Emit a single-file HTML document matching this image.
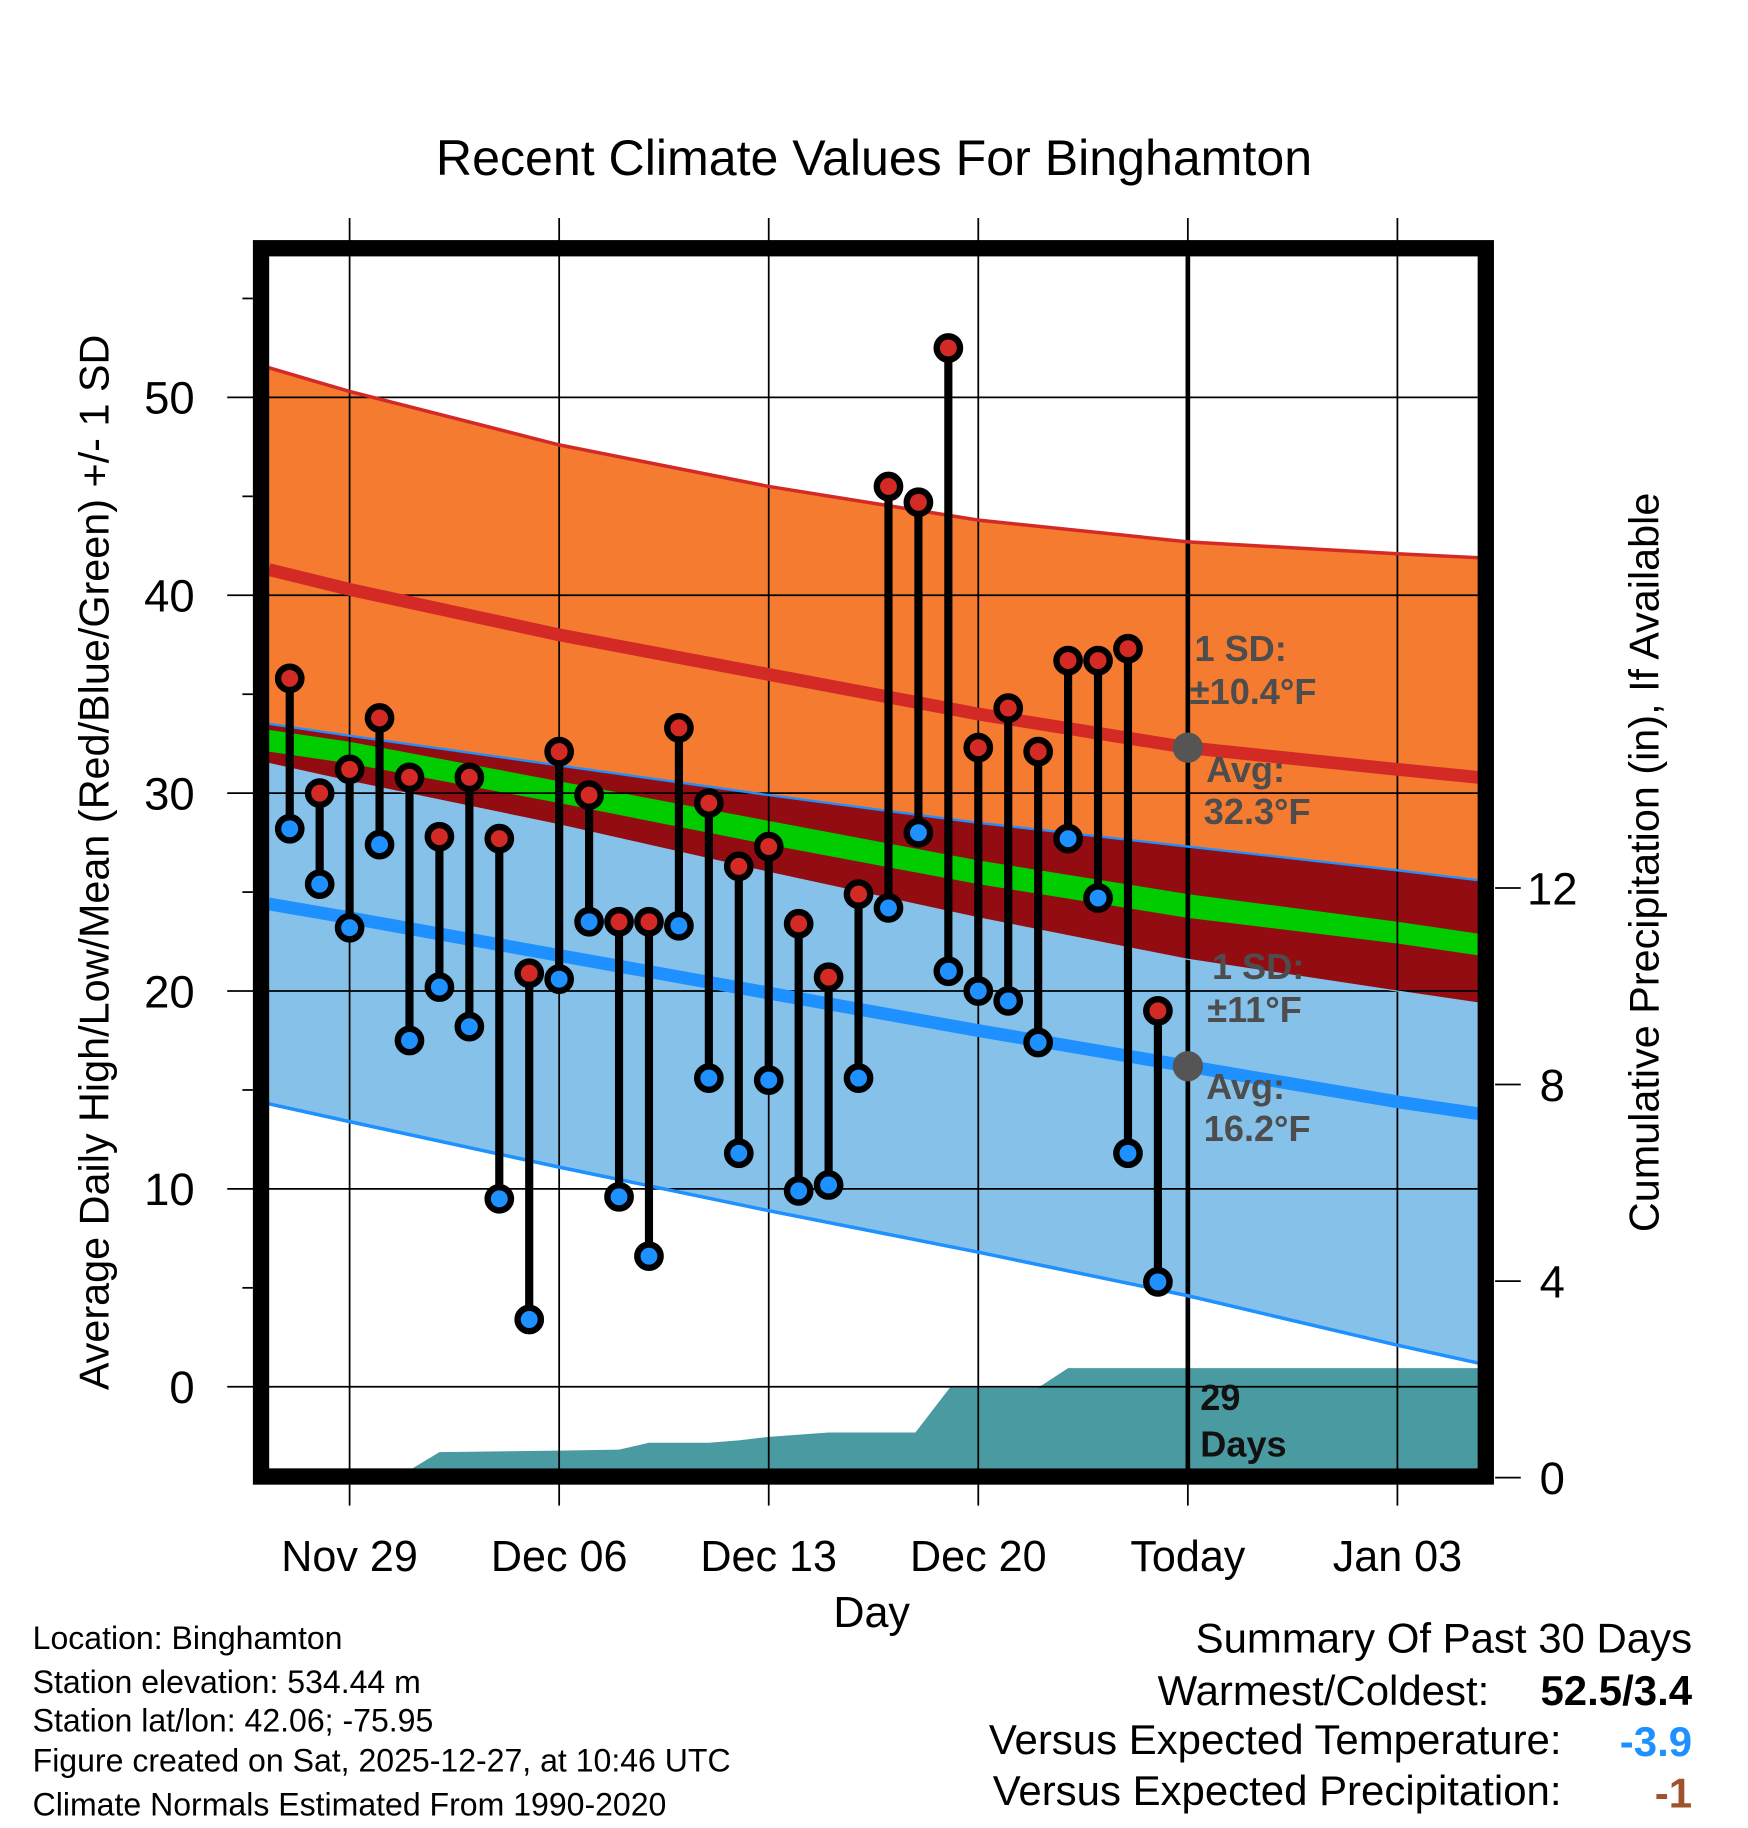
<!DOCTYPE html>
<html><head><meta charset="utf-8"><style>
html,body{margin:0;padding:0;background:#fff;}
svg{display:block;font-family:"Liberation Sans",sans-serif;}
</style></head><body>
<svg id="chart" width="1748" height="1828" viewBox="0 0 1500 1568.6" xmlns="http://www.w3.org/2000/svg">
<g id="fills"></g><g id="grid"></g><g id="lines"></g><g id="marks"></g><g id="frame"></g><g id="texts"></g>
</svg>
<script>
const dayLabels = ["Nov 29","Dec 06","Dec 13","Dec 20","Today","Jan 03"];
const dayTicks = [0,7,14,21,28,35];
const yTicks = [0,10,20,30,40,50];
const pTicks = [0,4,8,12];
const obsDays = [-2,-1,0,1,2,3,4,5,6,7,8,9,10,11,12,13,14,15,16,17,18,19,20,21,22,23,24,25,26,27];
const highs = [35.8,30.0,31.2,33.8,30.8,27.8,30.8,27.7,20.9,32.1,29.9,23.5,23.5,33.3,29.5,26.3,27.3,23.4,20.7,24.9,45.5,44.7,52.5,32.3,34.3,32.1,36.7,36.7,37.3,19.0];
const lows = [28.2,25.4,23.2,27.4,17.5,20.2,18.2,9.5,3.4,20.6,23.5,9.6,6.6,23.3,15.6,11.8,15.5,9.9,10.2,15.6,24.2,28.0,21.0,20.0,19.5,17.4,27.7,24.7,11.8,5.3];
const normDays = [-2.7,0,7,14,21,28,35,37.7];
const highUpper = [51.5,50.3,47.6,45.5,43.8,42.7,42.1,41.9];
const highAvg = [41.3,40.3,38.0,36.0,34.0,32.3,31.2,30.8];
const highLower = [33.5,32.9,31.4,29.9,28.5,27.3,26.1,25.6];
const meanTop = [33.2,32.6,30.6,28.6,26.6,24.9,23.5,22.9];
const meanBot = [32.1,31.5,29.5,27.4,25.4,23.7,22.4,21.8];
const lowUpper = [31.5,30.6,28.4,26.0,23.7,21.6,20.0,19.4];
const lowAvg = [24.4,23.7,21.8,19.9,18.0,16.2,14.4,13.8];
const lowLower = [14.3,13.4,11.1,8.9,6.8,4.6,2.1,1.2];
const precipDays = [-2.7,2.1,3,7,9,10,12,13,14,16,18.9,20.05,23,24,37.7];
const precipCum = [0,0,0.52,0.55,0.57,0.71,0.71,0.76,0.83,0.92,0.92,1.83,1.83,2.23,2.23];

const NS="http://www.w3.org/2000/svg";
const X0=231,X1=1268,Y0=220,Y1=1260;
const xs=d=>300+d*25.69;
const ys=v=>1190-v*16.98;
const ps=p=>1268-p*42.17;
function el(tag,attrs,parent,text){const e=document.createElementNS(NS,tag);for(const k in attrs)e.setAttribute(k,attrs[k]);if(text!==undefined)e.textContent=text;document.getElementById(parent).appendChild(e);return e;}
function pts(a){return normDays.map((d,i)=>xs(d)+','+ys(a[i])).join(' ');}
function band(top,bot,fill,name){
  const p=normDays.map((d,i)=>xs(d)+','+ys(top[i])).concat(normDays.map((d,i)=>xs(d)+','+ys(bot[i])).reverse()).join(' ');
  const e=el('polygon',{points:p,fill:fill},'fills');
  
  
}
band(highUpper,highLower,'#f47b2f','high-sd-band');
band(highLower,lowUpper,'#930c12','overlap-band');
band(lowUpper,lowLower,'#85c1e8','low-sd-band');
band(meanTop,meanBot,'#00cc00','mean-band');
{const p=precipDays.map((d,i)=>xs(d)+','+Math.min(ps(precipCum[i]),Y1)).concat([xs(37.7)+','+Y1,xs(-2.7)+','+Y1]).join(' ');
const e=el('polygon',{points:p,fill:'#4a9aa2'},'fills');

}
[[highUpper,'#d42a26',3,'high-upper-line'],[highLower,'#1e90ff',2,'high-lower-line'],[lowUpper,'#85c1e8',1,'low-upper-line'],[lowLower,'#1e90ff',3,'low-lower-line'],[highAvg,'#d42a26',11,'avg-high-line'],[lowAvg,'#1e90ff',11,'avg-low-line']].forEach(a=>{
  const e=el('polyline',{points:pts(a[0]),fill:'none',stroke:a[1],'stroke-width':a[2]},'lines');
  
  
});
dayTicks.forEach((d,i)=>{
  const g=el('line',{x1:xs(d),x2:xs(d),y1:187,y2:1292,stroke:'#000','stroke-width':1.5},'grid');
  
  
  const t=el('text',{x:xs(d),y:1348,'font-size':37,'text-anchor':'middle'},'texts',dayLabels[i]);
  
  
});
yTicks.forEach(v=>{
  const g=el('line',{x1:195,x2:X1,y1:ys(v),y2:ys(v),stroke:'#000','stroke-width':1.5},'grid');
  
  
  const t=el('text',{x:167,y:ys(v)+14,'font-size':39,'text-anchor':'end'},'texts',String(v));
  
  
  const m=el('line',{x1:208,x2:217,y1:ys(v+5),y2:ys(v+5),stroke:'#000','stroke-width':1.5},'grid');
  
  
});
pTicks.forEach(p=>{
  const g=el('line',{x1:1283,x2:1305,y1:ps(p),y2:ps(p),stroke:'#000','stroke-width':1.5},'grid');
  
  
  const t=el('text',{x:1332,y:ps(p)+14,'font-size':39,'text-anchor':'middle'},'texts',String(p));
  
  
});
{const e=el('line',{x1:xs(28),x2:xs(28),y1:Y0,y2:Y1,stroke:'#000','stroke-width':4},'grid');

}
obsDays.forEach((d,i)=>{
  const s=el('line',{x1:xs(d),x2:xs(d),y1:ys(highs[i]),y2:ys(lows[i]),stroke:'#000','stroke-width':7},'marks');
  
  
  const h=el('circle',{cx:xs(d),cy:ys(highs[i]),r:10,fill:'#d42a26',stroke:'#000','stroke-width':5.5},'marks');
  
  
  const l=el('circle',{cx:xs(d),cy:ys(lows[i]),r:10,fill:'#1e90ff',stroke:'#000','stroke-width':5.5},'marks');
  
  
});
[32.3,16.2].forEach(v=>{
  const c=el('circle',{cx:xs(28),cy:ys(v),r:13,fill:'#555'},'marks');
  
  
});
{const f=el('rect',{x:224,y:213,width:1051,height:1054,fill:'none',stroke:'#000','stroke-width':14},'frame');

}
</script>
<script>
(function(){
const items=[
 ['chart-title',750,150,43,'middle','normal','#000','Recent Climate Values For Binghamton'],
 ['x-axis-title',748,1396,37,'middle','normal','#000','Day'],
 ['high-sd-label',1025,567,31,'start','bold','#4d4d4d','1 SD:'],
 ['high-sd-value',1021,604,31,'start','bold','#4d4d4d','±10.4°F'],
 ['high-avg-label',1035,671,31,'start','bold','#4d4d4d','Avg:'],
 ['high-avg-value',1033,707,31,'start','bold','#4d4d4d','32.3°F'],
 ['low-sd-label',1040,840,31,'start','bold','#4d4d4d','1 SD:'],
 ['low-sd-value',1036,877,31,'start','bold','#4d4d4d','±11°F'],
 ['low-avg-label',1035,943,31,'start','bold','#4d4d4d','Avg:'],
 ['low-avg-value',1033,979,31,'start','bold','#4d4d4d','16.2°F'],
 ['days-count',1030,1210,31,'start','bold','#111','29'],
 ['days-label',1030,1250,31,'start','bold','#111','Days'],
 ['location-text',28,1415,27.5,'start','normal','#000','Location: Binghamton'],
 ['elevation-text',28,1453,27.5,'start','normal','#000','Station elevation: 534.44 m'],
 ['latlon-text',28,1486,27.5,'start','normal','#000','Station lat/lon: 42.06; -75.95'],
 ['created-text',28,1520,27.5,'start','normal','#000','Figure created on Sat, 2025-12-27, at 10:46 UTC'],
 ['normals-text',28,1558,27.5,'start','normal','#000','Climate Normals Estimated From 1990-2020'],
 ['summary-title',1452,1418,36,'end','normal','#000','Summary Of Past 30 Days'],
 ['warmest-label',1278,1463,36,'end','normal','#000','Warmest/Coldest:'],
 ['warmest-value',1452,1463,36,'end','bold','#000','52.5/3.4'],
 ['temp-label',1340,1505,36,'end','normal','#000','Versus Expected Temperature:'],
 ['temp-value',1452,1507,36,'end','bold','#1e90ff','-3.9'],
 ['precip-label',1340,1549,36,'end','normal','#000','Versus Expected Precipitation:'],
 ['precip-value',1452,1551,36,'end','bold','#a0522d','-1']
];
const g=document.getElementById('texts');
items.forEach(a=>{const t=document.createElementNS("http://www.w3.org/2000/svg",'text');
t.setAttribute('x',a[1]);t.setAttribute('y',a[2]);t.setAttribute('font-size',a[3]);t.setAttribute('text-anchor',a[4]);t.setAttribute('font-weight',a[5]);t.setAttribute('fill',a[6]);t.textContent=a[7];


g.appendChild(t);});
const yt=document.createElementNS("http://www.w3.org/2000/svg",'text');
yt.setAttribute('transform','translate(93,740) rotate(-90)');yt.setAttribute('font-size',35.5);yt.setAttribute('text-anchor','middle');
yt.textContent='Average Daily High/Low/Mean (Red/Blue/Green) +/- 1 SD';


g.appendChild(yt);
const rt=document.createElementNS("http://www.w3.org/2000/svg",'text');
rt.setAttribute('transform','translate(1423,740) rotate(-90)');rt.setAttribute('font-size',35.5);rt.setAttribute('text-anchor','middle');
rt.textContent='Cumulative Precipitation (in), If Available';


g.appendChild(rt);
})();
</script>
</body></html>
